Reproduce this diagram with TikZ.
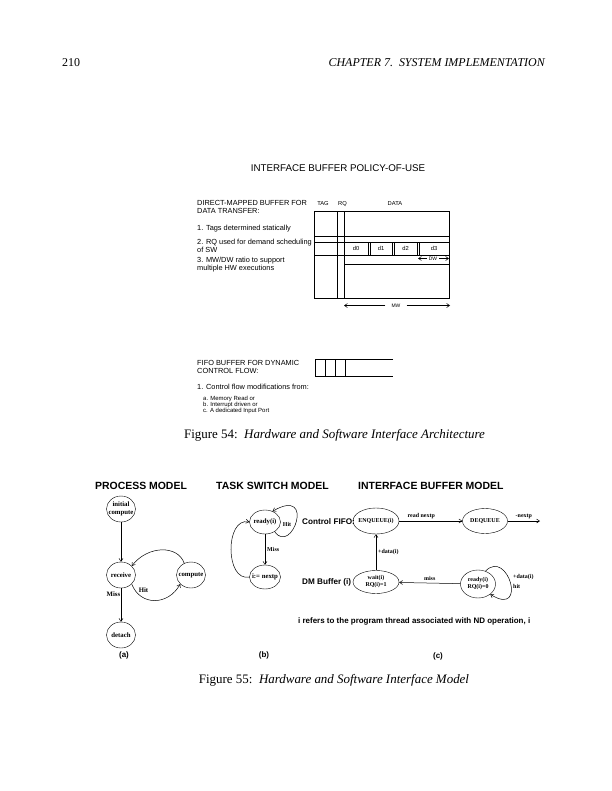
\documentclass[tikz,border=0pt]{standalone}
\usepackage{fontspec}
\setmainfont{Liberation Serif}
\setsansfont{Liberation Sans}
\usetikzlibrary{arrows.meta,positioning,shapes.geometric}

\newcommand{\fsz}[2]{\fontsize{#1}{#2}\selectfont}

\begin{document}
\begin{tikzpicture}[x=1bp,y=-1bp,
  every node/.style={inner sep=0pt},
  txt/.style={font=\sffamily\fsz{7.4}{8},align=left,anchor=west},
  sm/.style={font=\sffamily\fsz{5.8}{6}},
  captxt/.style={font=\fsz{13}{15}},
  headtxt/.style={font=\sffamily\bfseries\fsz{10.5}{12}},
  subtxt/.style={font=\sffamily\bfseries\fsz{8}{9}},
  st/.style={draw,ellipse,inner xsep=-4pt,minimum width=29bp,minimum height=26bp,font=\bfseries\fsz{6.8}{7.5},align=center},
  el/.style={draw,ellipse,inner xsep=-3pt,font=\bfseries\fsz{6}{7},align=center},
  lb/.style={font=\bfseries\fsz{6}{7}},
  e/.style={-{Straight Barb[length=3pt,width=4pt]},line width=0.5pt}]
\fill[white] (0,0) rectangle (612,791);
\useasboundingbox (0,0) rectangle (612,791);

\node[anchor=west,font=\fsz{12}{14}] (pg) at (62,63) {210};
\node[anchor=east,font=\itshape\fsz{12}{14}] (chap) at (545,63) {CHAPTER 7.\ \ SYSTEM IMPLEMENTATION};

% figure 54
\node[font=\sffamily\fsz{9.8}{11}] (ttl) at (338,168) {INTERFACE BUFFER POLICY-OF-USE};
\node[txt] (dm) at (197,207) {DIRECT-MAPPED BUFFER FOR\\DATA TRANSFER:};
\node[txt] (p1) at (197,229) {1. Tags determined statically};
\node[txt] (p2) at (197,245.5) {2. RQ used for demand scheduling\\of SW};
\node[txt] (p3) at (197,264.5) {3. MW/DW ratio to support\\multiple HW executions};

\node[sm] (tag) at (323,204) {TAG};
\node[sm] (rqh) at (342.5,204) {RQ};
\node[sm] (data) at (395,204) {DATA};
\draw (314,211) rectangle (449,298);
\draw (337,211) -- (337,298);
\draw (344,211) -- (344,298);
\draw (314,236) -- (449,236);
\draw (314,242) -- (449,242) (314,255) -- (449,255);
\draw (344,264) -- (449,264);
\foreach \a/\b/\t in {344/368/d0,370/392/d1,394/417/d2,419/449/d3}{
  \draw (\a,242) rectangle (\b,255);
  \node[sm] (\t) at ({(\a+\b)/2},248.5) {\t};
}
\node[sm,font=\sffamily\fsz{5}{6},inner xsep=2pt] (dw) at (433,258.5) {DW};
\coordinate (dwl) at (418,258.5);
\coordinate (dwr) at (449,258.5);
\draw[e] (dw) -- (dwl);
\draw[e] (dw) -- (dwr);
\node[sm,font=\sffamily\fsz{5}{6},inner xsep=6pt] (mw) at (396,305.5) {MW};
\coordinate (mwl) at (344,305.5);
\coordinate (mwr) at (450,305.5);
\draw[e] (mw) -- (mwl);
\draw[e] (mw) -- (mwr);

\node[txt] (fifo) at (197,366.5) {FIFO BUFFER FOR DYNAMIC\\CONTROL FLOW:};
\draw (393,359.5) -- (315,359.5) -- (315,376.5) -- (393,376.5);
\foreach \x in {325,335,345.5} \draw (\x,359.5) -- (\x,376.5);
\node[txt] (cf) at (197,386.5) {1. Control flow modifications from:};
\node[txt,font=\sffamily\fsz{6}{6}] (ab) at (203,404.5) {a. Memory Read or\\b. Interrupt driven or\\c. A dedicated Input Port};

\node[captxt] (c54) at (334.5,435) {Figure 54:\ \ \textit{Hardware and Software Interface Architecture}};

% figure 55
\node[headtxt] (hpm) at (141,486) {PROCESS MODEL};
\node[headtxt] (hts) at (272.5,486) {TASK SWITCH MODEL};
\node[headtxt,anchor=west] (hib) at (358,486) {INTERFACE BUFFER MODEL};

\node[st] (ini) at (121,509) {initial\\compute};
\node[st] (rc) at (121,575) {receive};
\node[st] (cp) at (191,575) {compute};
\node[st] (dt) at (121,635) {detach};
\draw[e] (ini) -- (rc);
\draw[e] (rc) -- node[lb,pos=0.18,left=0.5pt,font=\bfseries\fsz{6.8}{7.5}]{Miss} (dt);
\draw[e] (cp.120) .. controls (178,545) and (148,545) .. (rc.40);
\draw[e] (rc.-40) .. controls (140,606) and (168,606) .. node[lb,pos=0.3,above=5pt,font=\bfseries\fsz{6.8}{7.5}]{Hit} (cp.-140);
\node[subtxt] (la) at (124,655) {(a)};

\node[el,minimum width=31bp,minimum height=24bp,font=\bfseries\fsz{6.8}{7.5}] (rd) at (265,522) {ready(i)};
\node[el,minimum width=31bp,minimum height=24bp,font=\bfseries\fsz{6.8}{7.5}] (nx) at (265,577) {i:= nextp};
\draw[e] (rd) -- node[lb,right=2pt]{Miss} (nx);
\draw[e] (rd.-45) .. controls (292,556) and (316,486) .. (rd.55);
\node[lb] (hit) at (287,524) {Hit};
\draw[e] (nx.west) .. controls (225,582) and (225,517) .. (rd.west);
\node[subtxt] (lbb) at (264,655) {(b)};

\node[subtxt,font=\sffamily\bfseries\fsz{8.2}{9},anchor=west] (cfl) at (302,522) {Control FIFO:};
\node[el,minimum width=46bp,minimum height=26bp] (enq) at (376,521) {ENQUEUE(i)};
\node[el,minimum width=45bp,minimum height=25bp] (deq) at (485,521) {DEQUEUE};
\coordinate (out) at (540,521);
\draw[e] (enq) -- node[lb,pos=0.35,above=2pt]{read nextp} (deq);
\draw[e] (deq) -- node[lb,above=2pt]{-nextp} (out);
\node[subtxt,font=\sffamily\bfseries\fsz{8.2}{9},anchor=west] (dmb) at (302,582) {DM Buffer (i)};
\node[el,minimum width=46bp,minimum height=23bp] (wt) at (376,582) {wait(i)\\RQ(i)=1};
\node[el,minimum width=35bp,minimum height=28bp] (rq) at (478,584) {ready(i)\\RQ(i)=0};
\draw[e] (wt) -- node[lb,right=2pt]{+data(i)} (enq);
\draw[e] (rq) -- node[lb,above=2pt]{miss} (wt);
\draw[e] (rq.60) .. controls (508,548) and (528,618) .. (rq.-40);
\node[lb,anchor=west,align=left,font=\bfseries\fsz{6}{10}] (dh) at (513,581) {+data(i)\\hit};
\node[subtxt,anchor=west] (nt) at (298,621.5) {i refers to the program thread associated with ND operation, i};
\node[subtxt] (lc) at (438,656) {(c)};

\node[captxt] (c55) at (334,680) {Figure 55:\ \ \textit{Hardware and Software Interface Model}};
\end{tikzpicture}
\end{document}
